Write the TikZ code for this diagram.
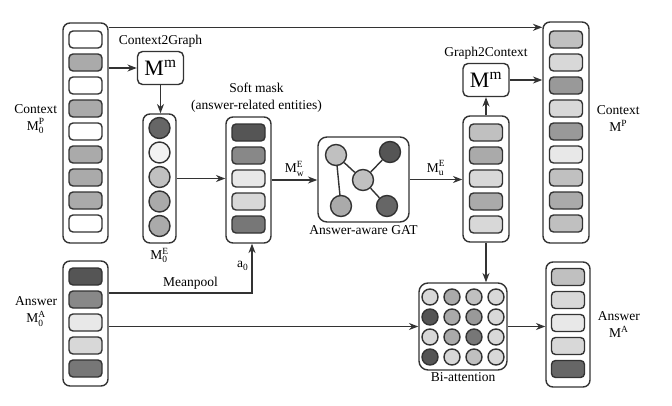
\documentclass[tikz,border=0pt]{standalone}
\usepackage{fontspec}
\setmainfont{Liberation Serif}
\usepackage{amsmath}
\usetikzlibrary{arrows.meta,positioning}

\definecolor{lineclr}{HTML}{333333}
\definecolor{cellwhite}{HTML}{FFFFFF}
\definecolor{cellsnow}{HTML}{F2F2F2}
\definecolor{cellpale}{HTML}{E8E8E8}
\definecolor{celllight}{HTML}{D8D8D8}
\definecolor{cellsilver}{HTML}{C0C0C0}
\definecolor{cellmid}{HTML}{AAAAAA}
\definecolor{cellgray}{HTML}{999999}
\definecolor{celldim}{HTML}{888888}
\definecolor{cellslate}{HTML}{777777}
\definecolor{celldark}{HTML}{666666}
\definecolor{cellblack}{HTML}{555555}

\begin{document}
\begin{tikzpicture}[
  x=1pt, y=-1pt,
  col/.style={draw=lineclr, line width=1.4pt, rounded corners=7pt,
              minimum width=45pt, inner sep=0pt},
  cell/.style={draw=lineclr, line width=1.4pt, rounded corners=4pt,
               minimum width=33pt, minimum height=17pt, inner sep=0pt},
  dot/.style={draw=lineclr, line width=1.4pt, circle, minimum size=21pt, inner sep=0pt},
  smalldot/.style={dot, minimum size=16pt},
  mbox/.style={draw=lineclr, line width=1.4pt, rounded corners=5pt,
               minimum width=46pt, minimum height=33pt, inner sep=0pt,
               font=\fontsize{22}{22}\selectfont},
  lbl/.style={font=\fontsize{13.5}{17}\selectfont, align=center, inner sep=1pt},
  arr/.style={-{Stealth[length=3.3mm]}, line width=1.4pt, draw=lineclr},
  edge/.style={line width=1.4pt, draw=lineclr}
]
  \useasboundingbox (0,0) rectangle (672,405);

  % Context columns
  \node[col, minimum height=220pt] (ctx0) at (85.5,133) {};
  \foreach \c [count=\i from 0] in {cellwhite,cellmid,cellwhite,cellmid,cellwhite,cellmid,cellmid,cellmid,cellwhite}
    \node[cell, fill=\c] (ctx0-\i) at (85.5,{39.5+23*\i}) {};
  \node[col, minimum width=46pt, minimum height=221pt] (ctx) at (566,132.5) {};
  \foreach \c [count=\i from 0] in {cellsilver,celllight,cellgray,celllight,cellgray,cellpale,cellsilver,cellmid,cellsilver}
    \node[cell, fill=\c] (ctx-\i) at (566,{39.5+23*\i}) {};
  \node[lbl, left=4pt of ctx0, yshift=14pt] {Context\\M$^{\text{P}}_{\text{0}}$};
  \node[lbl, right=6pt of ctx, yshift=14pt] {Context\\M$^{\text{P}}$};

  % Context2Graph
  \node[mbox] (c2g) at (160.5,68) {M$^{\text{m}}$};
  \node[lbl, above=2pt of c2g] {Context2Graph};

  % Entities
  \node[col, minimum width=33pt, minimum height=129pt] (ent0) at (159.5,178.5) {};
  \foreach \c [count=\i from 0] in {celldark,cellsnow,cellsilver,cellmid,cellmid}
    \node[dot, fill=\c] (ent0-\i) at (159.5,{128+24.5*\i}) {};
  \node[lbl, below=3pt of ent0] {M$^{\text{E}}_{\text{0}}$};

  % Soft mask
  \node[col, minimum height=126pt] (soft) at (248.5,180) {};
  \foreach \c [count=\i from 0] in {cellblack,celldim,cellpale,celllight,cellslate}
    \node[cell, fill=\c] (soft-\i) at (248.5,{132.5+23*\i}) {};
  \node[lbl, above=3pt of soft, xshift=8pt] {Soft mask\\(answer-related entities)};

  % Answer-aware GAT
  \node[col, rounded corners=9pt, minimum width=91pt, minimum height=85pt] (gat) at (363.5,179.5) {};
  \node[dot, fill=cellsilver] (gtl) at (336,155) {};
  \node[dot, fill=cellblack] (gtr) at (390,152) {};
  \node[dot, fill=cellsilver] (gmid) at (363,180) {};
  \node[dot, fill=cellmid] (gbl) at (341,206) {};
  \node[dot, fill=celldark] (gbr) at (387,206) {};
  \draw[edge] (gtl) -- (gmid);
  \draw[edge] (gtl) -- (gbl);
  \draw[edge] (gmid) -- (gtr);
  \draw[edge] (gmid) -- (gbr);
  \node[lbl, below=2pt of gat] {Answer-aware GAT};

  % Updated entities
  \node[col, minimum width=46pt, minimum height=126pt] (entu) at (486,179) {};
  \foreach \c [count=\i from 0] in {cellsilver,cellmid,celllight,cellmid,celllight}
    \node[cell, fill=\c] (entu-\i) at (486,{132.5+23*\i}) {};

  % Graph2Context
  \node[mbox] (g2c) at (486,80) {M$^{\text{m}}$};
  \node[lbl, above=2pt of g2c] {Graph2Context};

  % Answer columns
  \node[col, minimum height=125pt] (ans0) at (85.5,323.5) {};
  \foreach \c [count=\i from 0] in {cellblack,celldim,cellpale,celllight,cellslate}
    \node[cell, fill=\c] (ans0-\i) at (85.5,{276.5+23*\i}) {};
  \node[lbl, left=4pt of ans0, yshift=12pt] {Answer\\M$^{\text{A}}_{\text{0}}$};
  \node[col, minimum width=44pt, minimum height=125pt] (ans) at (568,324.5) {};
  \foreach \c [count=\i from 0] in {cellsilver,celllight,cellpale,celllight,celldark}
    \node[cell, fill=\c] (ans-\i) at (568,{277+23*\i}) {};
  \node[lbl, right=6pt of ans] {Answer\\M$^{\text{A}}$};

  % Bi-attention
  \node[col, rounded corners=9pt, minimum width=88pt, minimum height=87pt] (bi) at (463,326.5) {};
  \foreach \row [count=\r from 0] in {{celllight,cellmid,cellsilver,celllight},
      {cellblack,cellmid,cellgray,celllight},
      {celllight,cellmid,cellslate,celllight},
      {cellblack,celllight,cellsilver,celllight}}
    \foreach \c [count=\k from 0] in \row
      \node[smalldot, fill=\c] (bi-\r-\k) at ({430+22*\k},{297+20*\r}) {};
  \node[lbl, below=1pt of bi] {Bi-attention};

  % Connectors
  \draw[arr] ([yshift=-5pt]ctx0.north east) -- ([yshift=-5pt]ctx0.north east -| ctx.west);
  \draw[arr] (ctx0.east |- c2g) -- (c2g.west);
  \draw[arr] (c2g.south) -- (c2g.south |- ent0.north);
  \draw[arr] (ent0.east) -- (ent0.east -| soft.west);
  \draw[arr] (soft.east) -- node[lbl, above=2pt] {M$^{\text{E}}_{\text{w}}$} (soft.east -| gat.west);
  \draw[arr] (gat.east) -- node[lbl, above=2pt] {M$^{\text{E}}_{\text{u}}$} (gat.east -| entu.west);
  \draw[arr] (entu.north) -- (g2c.south);
  \draw[arr] (g2c.east) -- (g2c.east -| ctx.west);
  \draw[arr] (entu.south) -- (entu.south |- bi.north);
  \coordinate (mp) at (252,293);
  \draw[arr] (ans0.east |- mp) -- node[lbl, above=2pt, pos=0.57] {Meanpool} (mp)
    -- node[lbl, left=2pt, pos=0.55] {a$_{\text{0}}$} (mp |- soft.south);
  \draw[arr] (ans0.east |- bi.west) -- (bi.west);
  \draw[arr] (bi.east) -- (bi.east -| ans.west);
\end{tikzpicture}
\end{document}
